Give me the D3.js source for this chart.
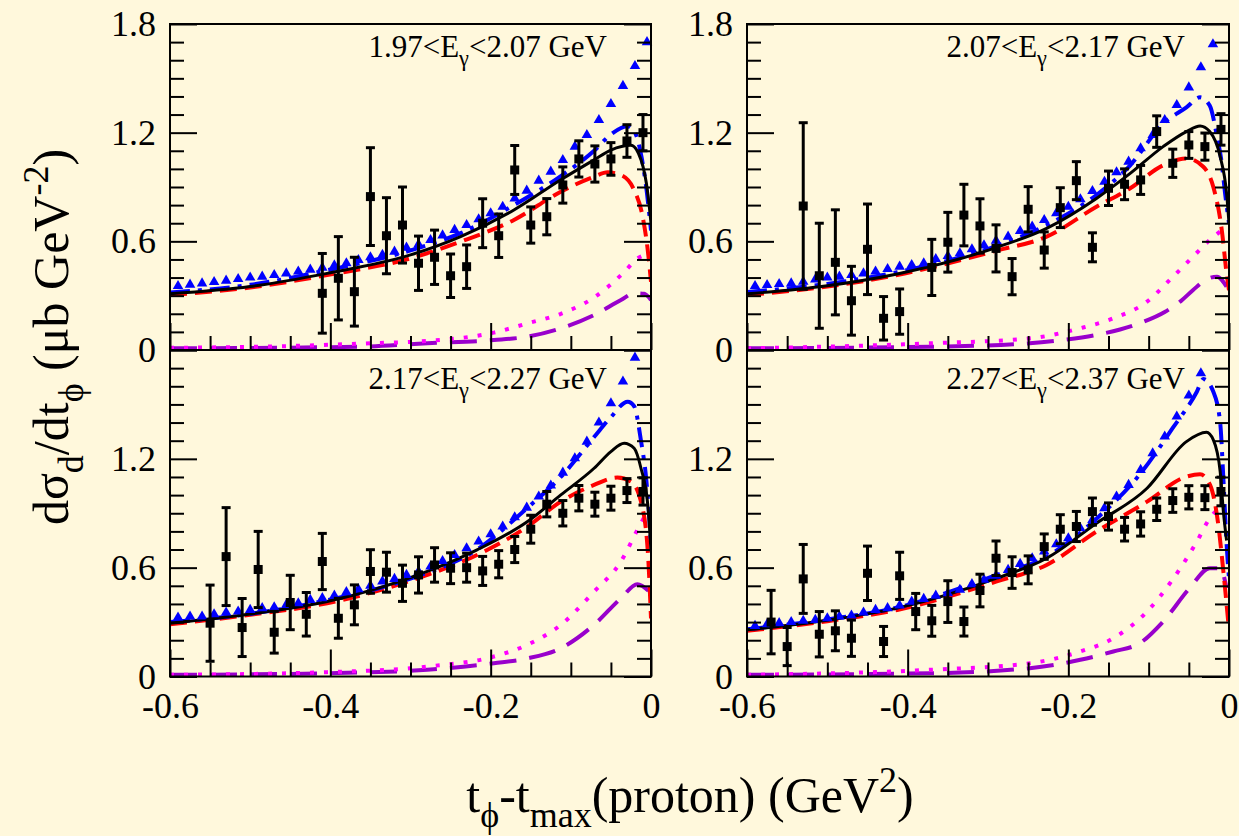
<!DOCTYPE html>
<html><head><meta charset="utf-8">
<script src="https://cdn.jsdelivr.net/npm/d3@7"></script>
<style>
html,body{margin:0;padding:0;background:#fff8dc;}
svg{display:block;}
text{font-family:"Liberation Serif","Times New Roman",serif;fill:#000;}
</style></head><body>
<svg id="chart" width="1239" height="836"></svg>
<script>
// Photon energy bins, one per panel (TL, TR, BL, BR)
const binLow  = ["1.97", "2.07", "2.17", "2.27"];
const binHigh = ["2.07", "2.17", "2.27", "2.37"];

// Axis ticks
const xMajor = [-0.6, -0.4, -0.2, 0];
const xMinor = [-0.55, -0.5, -0.45, -0.35, -0.3, -0.25, -0.15, -0.1, -0.05];
const yMajor = [0, 0.6, 1.2, 1.8];
const yMinor = [0.1, 0.2, 0.3, 0.4, 0.5, 0.7, 0.8, 0.9, 1.0, 1.1, 1.3, 1.4, 1.5, 1.6, 1.7];

// Measured cross sections: [t - tmax, dσ/dt, error]
const dataTL = [[-0.41,0.313,0.22],[-0.39,0.396,0.23],[-0.37,0.322,0.19],[-0.35,0.847,0.27],[-0.33,0.631,0.21],[-0.31,0.69,0.21],[-0.29,0.479,0.15],[-0.27,0.512,0.15],[-0.25,0.41,0.12],[-0.23,0.46,0.12],[-0.21,0.70,0.135],[-0.19,0.631,0.12],[-0.17,0.994,0.135],[-0.15,0.69,0.10],[-0.13,0.736,0.10],[-0.11,0.911,0.10],[-0.09,1.055,0.10],[-0.07,1.027,0.10],[-0.05,1.055,0.09],[-0.03,1.154,0.09],[-0.01,1.20,0.10]];
const dataTR = [[-0.53,0.795,0.46],[-0.51,0.41,0.29],[-0.49,0.484,0.29],[-0.47,0.272,0.19],[-0.45,0.556,0.25],[-0.43,0.175,0.12],[-0.41,0.212,0.125],[-0.37,0.456,0.155],[-0.35,0.595,0.165],[-0.33,0.745,0.17],[-0.31,0.685,0.15],[-0.29,0.561,0.13],[-0.27,0.405,0.10],[-0.25,0.777,0.125],[-0.23,0.552,0.10],[-0.21,0.786,0.11],[-0.19,0.935,0.105],[-0.17,0.567,0.08],[-0.15,0.893,0.095],[-0.13,0.915,0.085],[-0.11,0.939,0.08],[-0.09,1.206,0.087],[-0.07,1.031,0.078],[-0.05,1.132,0.074],[-0.03,1.123,0.075],[-0.01,1.218,0.087]];
const dataBL = [[-0.55,0.294,0.21],[-0.53,0.661,0.27],[-0.51,0.27,0.16],[-0.49,0.59,0.21],[-0.47,0.244,0.115],[-0.45,0.408,0.15],[-0.43,0.343,0.12],[-0.41,0.634,0.155],[-0.39,0.321,0.11],[-0.37,0.395,0.11],[-0.35,0.579,0.12],[-0.33,0.575,0.11],[-0.31,0.514,0.10],[-0.29,0.56,0.10],[-0.27,0.615,0.095],[-0.25,0.597,0.085],[-0.23,0.60,0.08],[-0.21,0.582,0.08],[-0.19,0.619,0.075],[-0.17,0.70,0.072],[-0.15,0.812,0.077],[-0.13,0.95,0.07],[-0.11,0.90,0.07],[-0.09,0.983,0.07],[-0.07,0.95,0.066],[-0.05,0.983,0.066],[-0.03,1.025,0.066],[-0.01,1.02,0.075]];
const dataBR = [[-0.57,0.30,0.175],[-0.55,0.165,0.105],[-0.53,0.538,0.19],[-0.51,0.233,0.125],[-0.49,0.252,0.11],[-0.47,0.211,0.10],[-0.45,0.569,0.15],[-0.43,0.193,0.083],[-0.41,0.555,0.13],[-0.39,0.358,0.10],[-0.37,0.307,0.085],[-0.35,0.413,0.115],[-0.33,0.303,0.08],[-0.31,0.474,0.09],[-0.29,0.652,0.095],[-0.27,0.573,0.087],[-0.25,0.588,0.077],[-0.23,0.716,0.07],[-0.21,0.812,0.08],[-0.19,0.827,0.083],[-0.17,0.909,0.075],[-0.15,0.882,0.075],[-0.13,0.812,0.065],[-0.11,0.841,0.067],[-0.09,0.922,0.062],[-0.07,0.97,0.065],[-0.05,0.988,0.064],[-0.03,0.986,0.066],[-0.01,1.02,0.079]];

// Triangle-marker model: common t grid and values per panel
const triT = [-0.59,-0.575,-0.56,-0.545,-0.53,-0.515,-0.5,-0.485,-0.47,-0.455,-0.44,-0.425,-0.41,-0.395,-0.38,-0.365,-0.35,-0.335,-0.32,-0.305,-0.29,-0.275,-0.26,-0.245,-0.23,-0.215,-0.2,-0.185,-0.17,-0.155,-0.14,-0.125,-0.11,-0.095,-0.08,-0.065,-0.05,-0.035,-0.02,-0.005];
const triTL = [0.353,0.361,0.368,0.375,0.383,0.392,0.40,0.405,0.414,0.423,0.433,0.444,0.455,0.467,0.479,0.497,0.512,0.525,0.543,0.565,0.583,0.607,0.633,0.663,0.69,0.722,0.755,0.791,0.837,0.88,0.935,0.985,1.049,1.123,1.187,1.27,1.358,1.458,1.568,1.70];
const triTR = [0.353,0.359,0.364,0.368,0.377,0.39,0.40,0.405,0.414,0.423,0.433,0.447,0.46,0.469,0.479,0.502,0.519,0.534,0.556,0.578,0.604,0.626,0.657,0.681,0.718,0.755,0.791,0.832,0.878,0.929,0.981,1.04,1.114,1.187,1.27,1.353,1.45,1.561,1.688];
const triBL = [0.325,0.331,0.331,0.343,0.353,0.358,0.367,0.377,0.382,0.395,0.404,0.422,0.432,0.446,0.465,0.481,0.501,0.524,0.538,0.56,0.579,0.606,0.637,0.67,0.707,0.744,0.784,0.827,0.878,0.931,0.992,1.053,1.124,1.203,1.295,1.40,1.506,1.626,1.758];
const triBR = [0.279,0.288,0.294,0.30,0.307,0.312,0.321,0.331,0.336,0.353,0.367,0.377,0.391,0.413,0.428,0.446,0.459,0.478,0.509,0.533,0.555,0.588,0.621,0.652,0.689,0.729,0.762,0.817,0.863,0.928,0.992,1.056,1.139,1.231,1.323,1.433,1.549,1.672];

// Model curves: [t - tmax, dσ/dt]
const blackTL = [[-0.6,0.31],[-0.5,0.35],[-0.404,0.423],[-0.3,0.525],[-0.2375,0.626],[-0.171,0.773],[-0.1125,0.94],[-0.071,1.05],[-0.05,1.104],[-0.025,1.13],[-0.0125,1.05],[-0.004,0.865],[0,0.70]];
const redTL   = [[-0.6,0.304],[-0.5,0.345],[-0.404,0.414],[-0.3,0.506],[-0.2375,0.598],[-0.171,0.718],[-0.1125,0.874],[-0.071,0.957],[-0.054,0.981],[-0.0375,0.966],[-0.021,0.883],[-0.0104,0.736],[-0.004,0.55],[0,0.377]];
const blueTL  = [[-0.6,0.317],[-0.5,0.36],[-0.404,0.44],[-0.3,0.55],[-0.2375,0.645],[-0.171,0.80],[-0.1125,0.96],[-0.071,1.10],[-0.05,1.19],[-0.03,1.235],[-0.02,1.2],[-0.012,1.07],[-0.006,0.90],[0,0.66]];
const magTL   = [[-0.6,0.012],[-0.45,0.022],[-0.35,0.037],[-0.279,0.05],[-0.196,0.096],[-0.154,0.147],[-0.1125,0.2],[-0.071,0.29],[-0.0335,0.43],[-0.017,0.505],[-0.002,0.53]];
const purTL   = [[-0.6,0.009],[-0.362,0.018],[-0.279,0.037],[-0.196,0.055],[-0.154,0.074],[-0.1125,0.12],[-0.071,0.193],[-0.0375,0.276],[-0.021,0.313],[-0.0085,0.31],[0,0.276]];

const blackTR = [[-0.6,0.31],[-0.5,0.355],[-0.413,0.42],[-0.289,0.567],[-0.227,0.672],[-0.165,0.837],[-0.123,0.975],[-0.082,1.123],[-0.053,1.206],[-0.036,1.237],[-0.024,1.206],[-0.011,1.068],[-0.003,0.865],[0,0.70]];
const redTR   = [[-0.6,0.304],[-0.5,0.35],[-0.413,0.414],[-0.289,0.549],[-0.227,0.626],[-0.165,0.791],[-0.123,0.893],[-0.082,1.02],[-0.053,1.058],[-0.032,1.012],[-0.0195,0.90],[-0.009,0.663],[-0.003,0.423],[0,0.33]];
const blueTR  = [[-0.6,0.32],[-0.5,0.365],[-0.413,0.43],[-0.289,0.575],[-0.227,0.69],[-0.165,0.856],[-0.123,1.02],[-0.082,1.25],[-0.053,1.34],[-0.036,1.395],[-0.024,1.35],[-0.015,1.18],[-0.009,1.03],[-0.005,0.87],[0,0.70]];
const magTR   = [[-0.6,0.009],[-0.372,0.037],[-0.248,0.064],[-0.185,0.12],[-0.144,0.175],[-0.102,0.267],[-0.073,0.39],[-0.044,0.519],[-0.024,0.607],[-0.003,0.68]];
const purTR   = [[-0.6,0.009],[-0.372,0.018],[-0.248,0.037],[-0.207,0.055],[-0.165,0.083],[-0.11,0.15],[-0.08,0.21],[-0.06,0.27],[-0.045,0.33],[-0.028,0.39],[-0.015,0.405],[-0.003,0.35]];

const blackBL = [[-0.6,0.294],[-0.5,0.345],[-0.404,0.413],[-0.279,0.579],[-0.217,0.698],[-0.154,0.854],[-0.1125,1.001],[-0.071,1.148],[-0.05,1.24],[-0.0335,1.286],[-0.021,1.258],[-0.0125,1.148],[-0.004,0.946],[0,0.69]];
const redBL   = [[-0.6,0.288],[-0.5,0.34],[-0.404,0.404],[-0.279,0.56],[-0.217,0.67],[-0.154,0.827],[-0.1125,0.964],[-0.071,1.056],[-0.042,1.097],[-0.025,1.075],[-0.0125,0.964],[-0.004,0.69],[0,0.32]];
const blueBL  = [[-0.6,0.30],[-0.5,0.345],[-0.404,0.42],[-0.3,0.54],[-0.217,0.70],[-0.154,0.93],[-0.1125,1.10],[-0.071,1.32],[-0.05,1.43],[-0.029,1.515],[-0.021,1.49],[-0.0125,1.30],[-0.006,1.09],[-0.002,0.87],[0,0.73]];
const magBL   = [[-0.6,0.009],[-0.404,0.024],[-0.279,0.055],[-0.196,0.11],[-0.154,0.175],[-0.1125,0.285],[-0.071,0.468],[-0.0375,0.634],[-0.017,0.808],[-0.002,0.93]];
const purBL   = [[-0.6,0.009],[-0.404,0.018],[-0.279,0.037],[-0.196,0.073],[-0.154,0.10],[-0.1125,0.156],[-0.071,0.285],[-0.0375,0.432],[-0.017,0.509],[-0.002,0.468]];

const blackBR = [[-0.6,0.257],[-0.5,0.31],[-0.413,0.377],[-0.289,0.542],[-0.227,0.652],[-0.165,0.845],[-0.102,1.038],[-0.053,1.295],[-0.028,1.346],[-0.0195,1.304],[-0.011,1.13],[-0.007,0.909],[-0.003,0.75]];
const redBR   = [[-0.6,0.252],[-0.5,0.305],[-0.413,0.367],[-0.289,0.524],[-0.227,0.615],[-0.165,0.799],[-0.102,0.964],[-0.053,1.102],[-0.036,1.115],[-0.0236,1.056],[-0.0133,0.836],[-0.007,0.579],[-0.001,0.303]];
const blueBR  = [[-0.6,0.26],[-0.5,0.315],[-0.413,0.38],[-0.289,0.56],[-0.227,0.66],[-0.165,0.87],[-0.11,1.12],[-0.07,1.37],[-0.04,1.57],[-0.032,1.64],[-0.0195,1.57],[-0.011,1.40],[-0.007,1.09],[-0.003,0.73],[0,0.54]];
const magBR   = [[-0.6,0.009],[-0.372,0.037],[-0.248,0.073],[-0.185,0.138],[-0.144,0.211],[-0.102,0.358],[-0.069,0.542],[-0.040,0.744],[-0.024,0.872],[-0.007,0.946]];
const purBR   = [[-0.6,0.009],[-0.372,0.018],[-0.248,0.046],[-0.185,0.092],[-0.144,0.138],[-0.111,0.184],[-0.082,0.303],[-0.049,0.487],[-0.024,0.597],[-0.011,0.597],[-0.003,0.487]];

// ---------------------------------------------------------------
const W = 1239, H = 836;
const BG = "#fff8dc";
const svg = d3.select("#chart");
svg.append("rect").attr("width", W).attr("height", H).attr("fill", BG);

const panels = [
  {box:{x0:170, x1:651,  y0:24,  y1:350},   data:dataTL, tri:triTL, curves:[purTL, magTL, redTL, blueTL, blackTL], bottomLabels:false, top18:true},
  {box:{x0:747, x1:1229, y0:24,  y1:350},   data:dataTR, tri:triTR, curves:[purTR, magTR, redTR, blueTR, blackTR], bottomLabels:false, top18:true},
  {box:{x0:170, x1:651,  y0:350, y1:676.5}, data:dataBL, tri:triBL, curves:[purBL, magBL, redBL, blueBL, blackBL], bottomLabels:true,  top18:false},
  {box:{x0:747, x1:1229, y0:350, y1:676.5}, data:dataBR, tri:triBR, curves:[purBR, magBR, redBR, blueBR, blackBR], bottomLabels:true,  top18:false}
];

// line styles for purple, magenta, red, blue, black curves
const curveStyle = [
  {color:"#9900cc", width:4,   dash:"27,13"},
  {color:"#ff00ff", width:4,   dash:"4,10"},
  {color:"#ff0000", width:4,   dash:"17,8"},
  {color:"#0000ff", width:4,   dash:"20,8,4,8"},
  {color:"#000000", width:3,   dash:null}
];

const fmt = d => d === 0 ? "0" : d.toFixed(1);
const TICK_FS = 36;

// text with sub/superscripts; parts = [string, kind] (0 normal, 1 sub, 2 sup)
function richText(sel, parts, size) {
  let shift = 0;
  parts.forEach(([s, k]) => {
    const target = k === 1 ? 0.3 * size : (k === 2 ? -0.4 * size : 0);
    sel.append("tspan")
      .attr("dy", target - shift)
      .attr("font-size", k ? size * 0.72 : size)
      .text(s);
    shift = target;
  });
}

panels.forEach((p, i) => {
  const {x0, x1, y0, y1} = p.box;
  const x = d3.scaleLinear().domain([-0.6, 0]).range([x0, x1]);
  const y = d3.scaleLinear().domain([0, 1.8]).range([y1, y0]);
  const g = svg.append("g");

  const clipId = "clip" + i;
  svg.append("clipPath").attr("id", clipId)
    .append("rect").attr("x", x0).attr("y", y0).attr("width", x1 - x0).attr("height", y1 - y0);

  // model curves
  const plot = g.append("g").attr("clip-path", `url(#${clipId})`);
  const line = d3.line().x(d => x(d[0])).y(d => y(d[1])).curve(d3.curveMonotoneX);
  p.curves.forEach((c, k) => {
    const st = curveStyle[k];
    plot.append("path").attr("d", line(c))
      .attr("fill", "none").attr("stroke", st.color).attr("stroke-width", st.width)
      .attr("stroke-dasharray", st.dash).attr("stroke-linejoin", "round");
  });

  // triangle markers
  const tri = d3.symbol().type(d3.symbolTriangle).size(48);
  g.append("g").selectAll("path").data(p.tri).join("path")
    .attr("d", tri)
    .attr("transform", (v, j) => `translate(${x(triT[j])},${y(v)})`)
    .attr("fill", "#0000ff");

  // data points with error bars
  const pts = g.append("g");
  const pg = pts.selectAll("g").data(p.data).join("g");
  pg.append("line")
    .attr("x1", d => x(d[0])).attr("x2", d => x(d[0]))
    .attr("y1", d => y(d[1] - d[2])).attr("y2", d => y(d[1] + d[2]))
    .attr("stroke", "#000").attr("stroke-width", 3);
  [1, -1].forEach(sgn => {
    pg.append("line")
      .attr("x1", d => x(d[0]) - 4.5).attr("x2", d => x(d[0]) + 4.5)
      .attr("y1", d => y(d[1] + sgn * d[2])).attr("y2", d => y(d[1] + sgn * d[2]))
      .attr("stroke", "#000").attr("stroke-width", 3);
  });
  pg.append("rect")
    .attr("x", d => x(d[0]) - 4.5).attr("y", d => y(d[1]) - 4.5)
    .attr("width", 9).attr("height", 9).attr("fill", "#000");

  // axes (ROOT style: ticks pointing inward)
  const styleAxis = a => {
    a.select(".domain").remove();
    a.selectAll("line").attr("stroke", "#000").attr("stroke-width", 2);
    a.selectAll("text").attr("font-size", TICK_FS)
      .attr("font-family", '"Liberation Serif","Times New Roman",serif').attr("fill", "#000");
  };
  const yFmt = d => (!p.top18 && d === 1.8) ? "" : fmt(d);
  g.append("g").attr("transform", `translate(${x0},0)`)
    .call(d3.axisLeft(y).tickValues(yMajor).tickSizeInner(-27).tickSizeOuter(0).tickPadding(14).tickFormat(yFmt))
    .call(styleAxis);
  g.append("g").attr("transform", `translate(${x0},0)`)
    .call(d3.axisLeft(y).tickValues(yMinor).tickSizeInner(-14).tickSizeOuter(0).tickFormat(""))
    .call(styleAxis);
  g.append("g").attr("transform", `translate(${x1},0)`)
    .call(d3.axisRight(y).tickValues(yMajor).tickSizeInner(-27).tickSizeOuter(0).tickFormat(""))
    .call(styleAxis);
  g.append("g").attr("transform", `translate(${x1},0)`)
    .call(d3.axisRight(y).tickValues(yMinor).tickSizeInner(-14).tickSizeOuter(0).tickFormat(""))
    .call(styleAxis);
  g.append("g").attr("transform", `translate(0,${y1})`)
    .call(d3.axisBottom(x).tickValues(xMajor).tickSizeInner(-27).tickSizeOuter(0).tickPadding(16)
      .tickFormat(p.bottomLabels ? fmt : () => ""))
    .call(styleAxis);
  g.append("g").attr("transform", `translate(0,${y1})`)
    .call(d3.axisBottom(x).tickValues(xMinor).tickSizeInner(-14).tickSizeOuter(0).tickFormat(""))
    .call(styleAxis);

  // frame
  g.append("rect").attr("x", x0).attr("y", y0).attr("width", x1 - x0).attr("height", y1 - y0)
    .attr("fill", "none").attr("stroke", "#000").attr("stroke-width", 2);

  // energy-bin label
  const lab = g.append("text").attr("x", x1 - 44).attr("y", y0 + (p.top18 ? 33 : 39))
    .attr("text-anchor", "end");
  richText(lab, [[binLow[i] + "<E", 0], ["\u03b3", 1], ["<" + binHigh[i] + " GeV", 0]], 31);
});

// axis titles
const xt = svg.append("text").attr("x", 690).attr("y", 812).attr("text-anchor", "middle");
richText(xt, [["t", 0], ["\u03d5", 1], ["-t", 0], ["max", 1], ["(proton) (GeV", 0], ["2", 2], [")", 0]], 50);

const yt = svg.append("text").attr("transform", "translate(68,337) rotate(-90)").attr("text-anchor", "middle");
richText(yt, [["d\u03c3", 0], ["d", 1], ["/dt", 0], ["\u03d5", 1], [" (\u03bcb GeV", 0], ["-2", 2], [")", 0]], 50);
</script>
</body></html>
